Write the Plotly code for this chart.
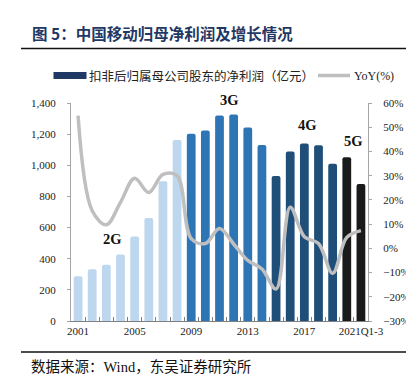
import plotly.graph_objects as go

# ---------------- data ----------------
categories = ["2001", "2002", "2003", "2004", "2005", "2006", "2007", "2008",
              "2009", "2010", "2011", "2012", "2013", "2014",
              "2015", "2016", "2017", "2018", "2019",
              "2020", "2021Q1-3"]
net_profit = [288, 333, 361, 427, 542, 662, 897, 1163,
              1202, 1224, 1320, 1326, 1243, 1131,
              931, 1089, 1140, 1129, 1010,
              1051, 880]
yoy = [54.8, 15.5, 9.7, 19.0, 28.9, 23.0, 30.5, 30.0,
       4.0, 2.0, 8.2, 1.8, -5.0, -8.5,
       -16.8, 17.0, 4.8, 2.0, -10.3,
       4.5, 7.3]
generation = ["2G"] * 8 + ["3G"] * 6 + ["4G"] * 5 + ["5G"] * 2
shown_ticks = ["2001", "2005", "2009", "2013", "2017", "2021Q1-3"]
gen_labels = ["2G", "3G", "4G", "5G"]

# ---------------- styling ----------------
gen_colors = {"2G": "#BDD7EE", "3G": "#2E75B6", "4G": "#1F4E79", "5G": "#1A1A1A"}
gen_label_px = {"2G": (104.5, 231), "3G": (221, 92), "4G": (299, 117), "5G": (345.5, 132.5)}
bar_colors = [gen_colors[g] for g in generation]
W, H = 414, 375
L, R, T, B = 63, 54, 95, 62
pw, ph = W - L - R, H - T - B

def px_x(p):
    return (p - L) / pw

def px_y(p):
    return (H - B - p) / ph

serif = "Liberation Serif, Times New Roman, serif"
cjk = "Noto Sans CJK SC"

fig = go.Figure()
fig.add_trace(go.Bar(
    x=categories, y=net_profit, marker=dict(color=bar_colors, line=dict(width=0)),
    name="扣非后归属母公司股东的净利润（亿元）", yaxis="y", showlegend=False,
))
fig.add_trace(go.Scatter(
    x=categories, y=yoy, mode="lines", line=dict(color="#BFBFBF", width=3.5, shape="spline", smoothing=1.0),
    name="YoY(%)", yaxis="y2", showlegend=False,
))

ticktext = [c if c in shown_ticks else "" for c in categories]

fig.update_layout(
    width=W, height=H,
    margin=dict(l=L, r=R, t=T, b=B, pad=0),
    paper_bgcolor="white", plot_bgcolor="white",
    bargap=0.38, barcornerradius=2,
    xaxis=dict(
        type="category", tickmode="array", tickvals=categories, ticktext=ticktext,
        tickangle=0,
        tickson="boundaries", ticks="inside", ticklen=4, tickcolor="#808080",
        showline=True, linecolor="#808080", linewidth=1,
        tickfont=dict(family=serif, size=11, color="#222"),
        showgrid=False, zeroline=False,
    ),
    yaxis=dict(
        range=[0, 1400], dtick=200, tickformat=",", ticks="outside", ticklen=3,
        tickcolor="#A6A6A6", showline=True, linecolor="#A6A6A6", linewidth=1,
        tickfont=dict(family=serif, size=11, color="#222"), ticklabelstandoff=9,
        showgrid=False, zeroline=False,
    ),
    yaxis2=dict(
        range=[-30, 60], dtick=10, ticksuffix="%", overlaying="y", side="right",
        ticks="outside", ticklen=3, tickcolor="#A6A6A6", showline=True,
        linecolor="#A6A6A6", linewidth=1,
        tickfont=dict(family=serif, size=11, color="#222"), ticklabelstandoff=9,
        showgrid=False, zeroline=False,
    ),
)

annotations = []
# generation labels
for lab in gen_labels:
    gx, gy = gen_label_px[lab]
    annotations.append(dict(x=px_x(gx), y=px_y(gy), xref="paper", yref="paper", text=f"<b>{lab}</b>",
                            showarrow=False, font=dict(family=serif, size=14.5, color="#111"),
                            xanchor="center", yanchor="middle"))
# title
annotations.append(dict(x=px_x(22), y=px_y(25), xref="paper", yref="paper",
                        text="<b>图 5：中国移动归母净利润及增长情况</b>", showarrow=False,
                        font=dict(family=cjk, size=15.5, color="#1F3864"),
                        xanchor="left", yanchor="middle"))
# legend text
annotations.append(dict(x=px_x(79), y=px_y(67.5), xref="paper", yref="paper",
                        text="扣非后归属母公司股东的净利润（亿元）", showarrow=False,
                        font=dict(family=cjk, size=12.5, color="#222"),
                        xanchor="left", yanchor="middle"))
annotations.append(dict(x=px_x(344), y=px_y(67.5), xref="paper", yref="paper",
                        text="YoY(%)", showarrow=False,
                        font=dict(family=serif, size=12, color="#222"),
                        xanchor="left", yanchor="middle"))
# source
annotations.append(dict(x=px_x(21), y=px_y(357), xref="paper", yref="paper",
                        text="数据来源：<span style='font-family:Liberation Serif'>Wind</span>，东吴证券研究所",
                        showarrow=False, font=dict(family=cjk, size=14.5, color="#111"),
                        xanchor="left", yanchor="middle"))

shapes = [
    # title rule
    dict(type="line", xref="paper", yref="paper", x0=px_x(13), x1=px_x(409),
         y0=px_y(40.5), y1=px_y(40.5), line=dict(color="#111", width=1.6)),
    # bottom rule
    dict(type="line", xref="paper", yref="paper", x0=px_x(13), x1=px_x(410),
         y0=px_y(344), y1=px_y(344), line=dict(color="#111", width=1.6)),
    # legend swatches
    dict(type="rect", xref="paper", yref="paper", x0=px_x(45.5), x1=px_x(78.5),
         y0=px_y(71), y1=px_y(64), fillcolor="#1F3864", line=dict(width=0)),
    dict(type="line", xref="paper", yref="paper", x0=px_x(310), x1=px_x(342),
         y0=px_y(67.5), y1=px_y(67.5), line=dict(color="#BFBFBF", width=3.5)),
]

fig.update_layout(annotations=annotations, shapes=shapes)
fig.write_html("out.html")
